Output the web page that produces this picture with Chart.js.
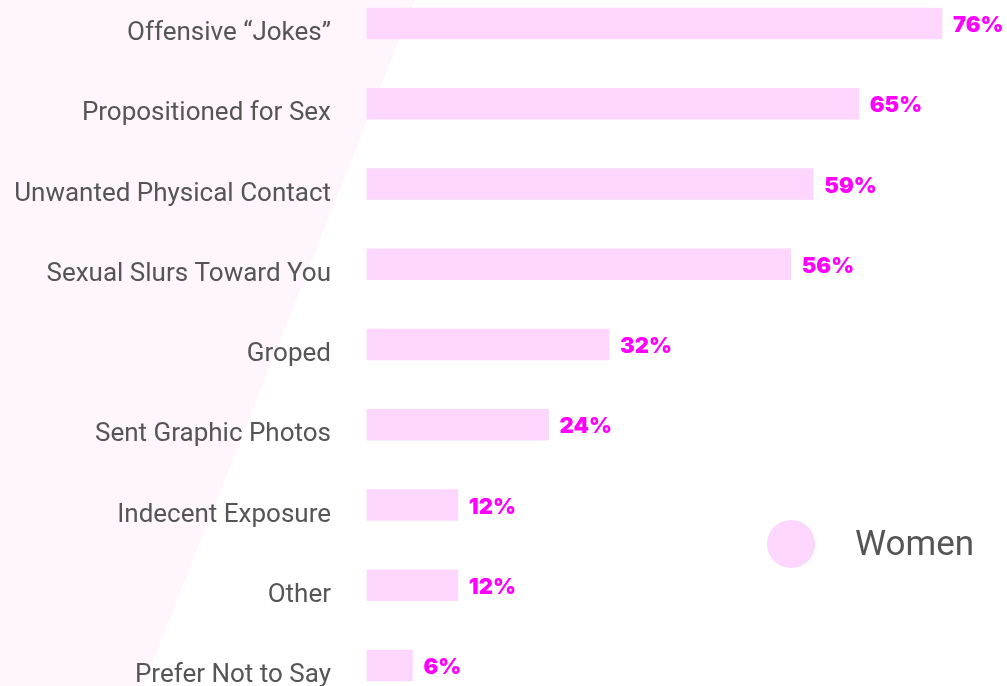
<!DOCTYPE html>
<html>
<head>
<meta charset="utf-8">
<script src="https://cdn.jsdelivr.net/npm/chart.js@4"></script>
<style>
  html, body { margin: 0; padding: 0; background: #fff; }
  #wrap { width: 1007px; height: 686px; }
</style>
</head>
<body>
<div id="wrap"><canvas id="barChart" width="1007" height="686"></canvas></div>
<script>
const categories = [
  'Offensive “Jokes”',
  'Propositioned for Sex',
  'Unwanted Physical Contact',
  'Sexual Slurs Toward You',
  'Groped',
  'Sent Graphic Photos',
  'Indecent Exposure',
  'Other',
  'Prefer Not to Say'
];
const seriesName = 'Women';
const womenValues = [76, 65, 59, 56, 32, 24, 12, 12, 6];

const barColor = '#fcd6fc';
const valueColor = '#ff00ff';
const textColor = '#555555';

// faint diagonal backdrop behind the labels
const backdrop = {
  id: 'backdrop',
  beforeDraw(chart) {
    const ctx = chart.ctx;
    ctx.save();
    ctx.fillStyle = '#fff5fd';
    ctx.beginPath();
    ctx.moveTo(0, 0);
    ctx.lineTo(415, 0);
    ctx.lineTo(143, chart.height);
    ctx.lineTo(0, chart.height);
    ctx.closePath();
    ctx.fill();
    ctx.restore();
  }
};

const valueLabels = {
  id: 'valueLabels',
  afterDatasetsDraw(chart) {
    const ctx = chart.ctx;
    const meta = chart.getDatasetMeta(0);
    ctx.save();
    ctx.font = '900 22px Inter';
    ctx.fillStyle = valueColor;
    ctx.textBaseline = 'middle';
    ctx.textAlign = 'left';
    meta.data.forEach((bar, i) => {
      ctx.fillText(`${chart.data.datasets[0].data[i]}%`, bar.x + 11, bar.y + 2);
    });
    ctx.restore();
  }
};

const cornerLegend = {
  id: 'cornerLegend',
  afterDraw(chart) {
    const ctx = chart.ctx;
    const ds = chart.data.datasets[0];
    ctx.save();
    ctx.fillStyle = ds.backgroundColor;
    ctx.beginPath();
    ctx.arc(791, 544, 24, 0, Math.PI * 2);
    ctx.fill();
    ctx.font = '35px Roboto';
    ctx.fillStyle = textColor;
    ctx.textBaseline = 'middle';
    ctx.fillText(ds.label, 855, 546);
    ctx.restore();
  }
};

new Chart(document.getElementById('barChart'), {
  type: 'bar',
  data: {
    labels: categories,
    datasets: [{
      label: seriesName,
      data: womenValues,
      backgroundColor: barColor,
      borderWidth: 0,
      barThickness: 31,
      clip: false
    }]
  },
  options: {
    indexAxis: 'y',
    responsive: false,
    animation: false,
    layout: { padding: { top: 23.5, bottom: 20.5, left: 0, right: 0 } },
    plugins: {
      legend: { display: false },
      tooltip: { enabled: false }
    },
    scales: {
      x: { display: false, min: 0, max: 84.6 },
      y: {
        offset: false,
        grid: { display: false, drawTicks: false },
        border: { display: false },
        ticks: {
          padding: 36,
          labelOffset: 10,
          color: textColor,
          font: { family: 'Roboto', size: 26 }
        },
        afterFit(scale) {
          scale.width = 367;
          scale.paddingTop = 0;
          scale.paddingBottom = 0;
        }
      }
    }
  },
  plugins: [backdrop, valueLabels, cornerLegend]
});
</script>
</body>
</html>
